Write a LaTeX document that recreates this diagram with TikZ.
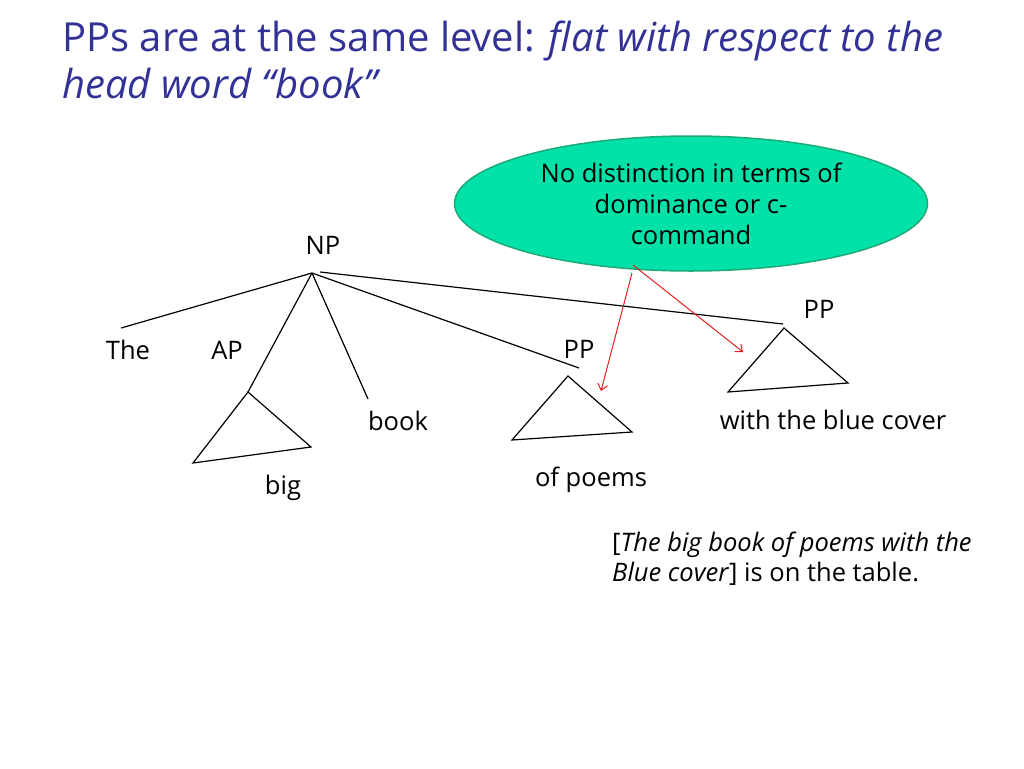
\documentclass[tikz,border=0pt]{standalone}
\usepackage{fontspec}
\setmainfont{Open Sans}
\usetikzlibrary{arrows.meta,shapes.geometric}
\definecolor{titleblue}{RGB}{50,50,150}
\definecolor{bubblefill}{RGB}{2,226,168}
\definecolor{bubbleline}{RGB}{30,170,120}
\definecolor{arrowred}{RGB}{230,30,30}
\tikzset{
  lbl/.style={anchor=base,inner sep=0pt,font=\fontsize{25.5}{30}\selectfont},
  branch/.style={draw=black,line width=1.2pt},
  tri/.style={draw=black,line width=1.2pt},
  note/.style={draw=arrowred,line width=1pt,-{Straight Barb[length=6pt,width=10pt]}},
  ttl/.style={anchor=base west,inner sep=0pt,text=titleblue,font=\fontsize{40}{45}\selectfont}
}
\begin{document}
\begin{tikzpicture}[x=1pt,y=-1pt]
\useasboundingbox (0,0) rectangle (1024,768);
% title
\node[ttl] (t1) at (62,52) {PPs are at the same level: \textit{flat with respect to the}};
\node[ttl] (t2) at (62,98) {\textit{head word “book”}};
% bubble
\node[ellipse,draw=bubbleline,fill=bubblefill,line width=1.5pt,minimum width=473pt,minimum height=135pt,inner sep=0pt] (bub) at (691,203.5) {};
\node[lbl] (b1) at (691,182) {No distinction in terms of};
\node[lbl] (b2) at (691,213) {dominance or c-};
\node[lbl] (b3) at (691,244) {command};
% tree coordinates
\coordinate (apex) at (312,273);
\coordinate (apexb) at (320,272);
\coordinate (theend) at (121,328);
\coordinate (aptop) at (248,392);
\coordinate (apl) at (193,463);
\coordinate (apr) at (311,447);
\coordinate (bookend) at (368,399);
\coordinate (pp1end) at (579,368);
\coordinate (pp1top) at (568,376);
\coordinate (pp1l) at (512,440);
\coordinate (pp1r) at (632,432);
\coordinate (pp2end) at (783,324);
\coordinate (pp2top) at (784,328);
\coordinate (pp2l) at (728,392);
\coordinate (pp2r) at (848,383);
% labels
\node[lbl] (np) at (323,254) {NP};
\node[lbl] (the) at (128,359) {The};
\node[lbl] (ap) at (227,359) {AP};
\node[lbl] (pp1) at (579,358) {PP};
\node[lbl] (pp2) at (819,318) {PP};
\node[lbl] (book) at (398,430) {book};
\node[lbl] (big) at (283,494) {big};
\node[lbl] (ofp) at (591,486) {of poems};
\node[lbl] (wbc) at (833,429) {with the blue cover};
% branches
\draw[branch] (apex) -- (theend);
\draw[branch] (apex) -- (aptop);
\draw[branch] (apex) -- (bookend);
\draw[branch] (apex) -- (pp1end);
\draw[branch] (apexb) -- (pp2end);
% triangles
\draw[tri] (aptop) -- (apl) -- (apr) -- cycle;
\draw[tri] (pp1top) -- (pp1l) -- (pp1r) -- cycle;
\draw[tri] (pp2top) -- (pp2l) -- (pp2r) -- cycle;
% red arrows
\coordinate (s1) at (633,265);
\coordinate (e1) at (743,352);
\coordinate (s2) at (632,273);
\coordinate (e2) at (601,391);
\draw[note] (s1) -- (e1);
\draw[note] (s2) -- (e2);
% sentence
\node[anchor=base west,inner sep=0pt,font=\fontsize{25.5}{30}\selectfont] (s1t) at (612,551) {[\textit{The big book of poems with the}};
\node[anchor=base west,inner sep=0pt,font=\fontsize{25.5}{30}\selectfont] (s2t) at (612,581) {\textit{Blue cover}] is on the table.};
\end{tikzpicture}
\end{document}
